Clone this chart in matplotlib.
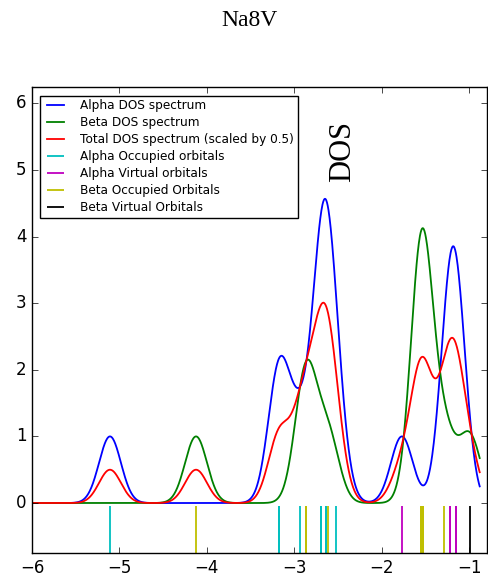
import matplotlib
matplotlib.use('Agg')
import matplotlib.pyplot as plt
import numpy as np

# orbital energies (repeats = degenerate levels)
alpha_occ = [-5.108, -3.174, -3.174, -2.940, -2.693, -2.693, -2.636, -2.636, -2.529]
alpha_virt = [-1.770, -1.217, -1.217, -1.149, -1.149]
beta_occ = [-4.124, -2.865, -2.865, -2.613, -1.549, -1.549, -1.532, -1.532, -1.286]
beta_virt = [-0.992]
sigma = 0.125

plt.style.use('classic')
plt.rcParams['figure.facecolor'] = 'white'
plt.rcParams['savefig.facecolor'] = 'white'

x = np.linspace(-6, -0.88, 1200)


def dos(levels):
    levels = np.asarray(levels)
    return np.exp(-(x[:, None] - levels[None, :]) ** 2 / (2 * sigma ** 2)).sum(axis=1)


alpha = dos(alpha_occ + alpha_virt)
beta = dos(beta_occ + beta_virt)
total = 0.5 * (alpha + beta)

fig = plt.figure(figsize=(4.89, 5.81), dpi=100)
ax = fig.add_axes([0.0654, 0.0482, 0.9299, 0.8015])

ax.plot(x, alpha, color='b', lw=1.3, label='Alpha DOS spectrum')
ax.plot(x, beta, color='g', lw=1.3, label='Beta DOS spectrum')
ax.plot(x, total, color='r', lw=1.3, label='Total DOS spectrum (scaled by 0.5)')
ax.vlines(alpha_occ, -1, -0.04, color='c', lw=1.3, label='Alpha Occupied orbitals')
ax.vlines(alpha_virt, -1, -0.04, color='m', lw=1.3, label='Alpha Virtual orbitals')
ax.vlines(beta_occ, -1, -0.04, color='y', lw=1.3, label='Beta Occupied Orbitals')
ax.vlines(beta_virt, -1, -0.04, color='k', lw=1.3, label='Beta Virtual Orbitals')

ax.set_xlim(-6, -0.8)
ax.set_ylim(-0.75, 6.24)
ax.set_xticks(range(-6, 0))
ax.set_yticks(range(0, 7))
ax.tick_params(labelsize=12)

ax.text(-2.445, 5.27, 'DOS', rotation=90, family='Liberation Serif',
        fontsize=22, ha='center', va='center')
fig.text(0.511, 0.965, 'Na8V', family='Liberation Serif', fontsize=17,
         ha='center', va='center')

ax.legend(loc='upper left', fontsize=8.7, bbox_to_anchor=(0.0, 1.0),
          borderaxespad=0.68, handlelength=2.0, handletextpad=1.0,
          labelspacing=0.33, borderpad=0.3)

fig.savefig('out.png', dpi=100)
